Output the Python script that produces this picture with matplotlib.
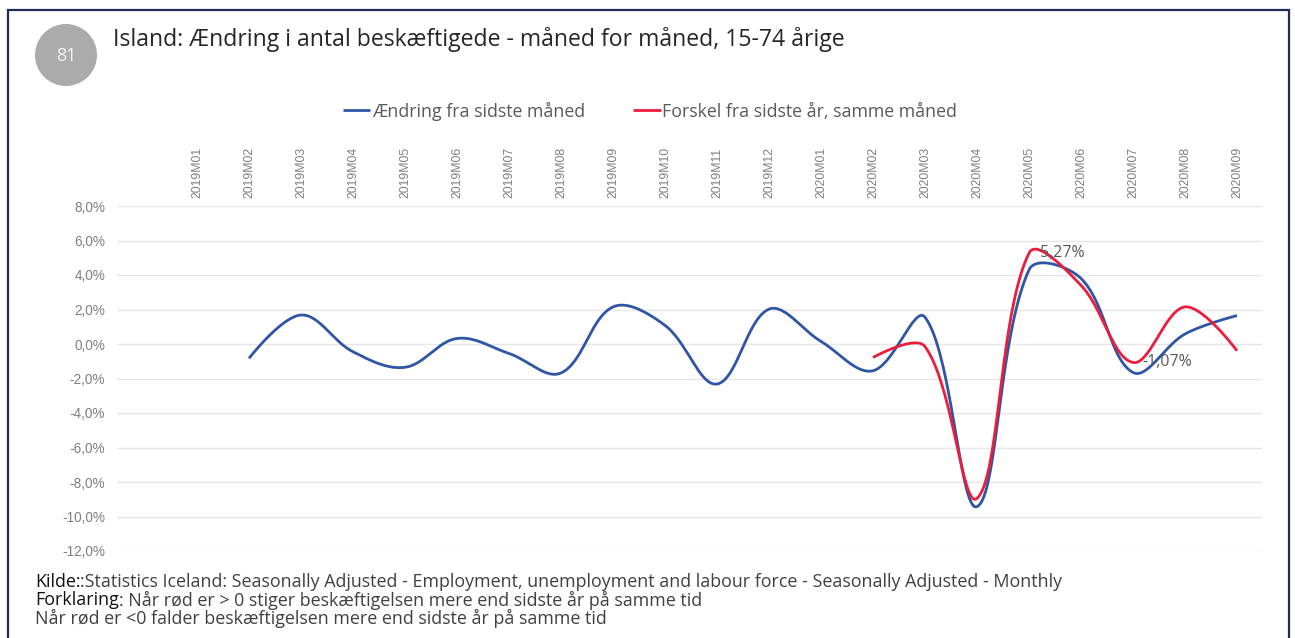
import numpy as np
import matplotlib.pyplot as plt
from matplotlib.patches import Ellipse, Rectangle

months = ['2019M01', '2019M02', '2019M03', '2019M04', '2019M05', '2019M06',
          '2019M07', '2019M08', '2019M09', '2019M10', '2019M11', '2019M12',
          '2020M01', '2020M02', '2020M03', '2020M04', '2020M05', '2020M06',
          '2020M07', '2020M08', '2020M09']
# Ændring fra sidste måned (%)
blue = [np.nan, -0.83, 1.68, -0.45, -1.35, 0.32, -0.55, -1.68, 2.15, 1.08,
        -2.32, 2.02, 0.15, -1.55, 1.55, -9.43, 4.30, 3.80, -1.65, 0.58, 1.65]
# Forskel fra sidste år, samme måned (%)
red = [np.nan] * 13 + [-0.78, -0.15, -8.95, 5.27, 3.40, -1.07, 2.15, -0.39]

yticks = [8, 6, 4, 2, 0, -2, -4, -6, -8, -10, -12]

W, H = 1295, 638
BLUE = '#2f55a4'
RED = '#ec1c3c'
GREY = '#7f7f7f'


def smooth(x, y, sx=52.0, sy=17.25, t=0.36, n=40):
    # Excel-ish smoothed line: bezier control points scaled by segment lengths
    p = np.column_stack([np.asarray(x, float) * sx, np.asarray(y, float) * sy])
    out = [p[0]]
    for i in range(len(p) - 1):
        a, b = p[i], p[i + 1]
        if i == 0:
            c1 = a
        else:
            d0 = np.hypot(*(a - p[i - 1])); d1 = np.hypot(*(b - a))
            c1 = a + t * d1 / (d0 + d1) * (b - p[i - 1])
        if i + 2 >= len(p):
            c2 = b
        else:
            d0 = np.hypot(*(b - a)); d1 = np.hypot(*(p[i + 2] - b))
            c2 = b - t * d0 / (d0 + d1) * (p[i + 2] - a)
        s = np.linspace(0, 1, n)[1:, None]
        seg = (1 - s) ** 3 * a + 3 * (1 - s) ** 2 * s * c1 + 3 * (1 - s) * s ** 2 * c2 + s ** 3 * b
        out.extend(seg)
    out = np.array(out)
    return out[:, 0] / sx, out[:, 1] / sy


plt.rcParams['font.family'] = ['Open Sans', 'DejaVu Sans']
fig = plt.figure(figsize=(W / 100, H / 100), dpi=100)
rend = fig.canvas.get_renderer()

# outer frame
fig.patches.append(Rectangle((8 / W, -0.01), 1281 / W, 1 - 10 / H + 0.01,
                             transform=fig.transFigure, fill=False,
                             edgecolor='#1f2d55', lw=1.6))

# number badge + title
fig.patches.append(Ellipse((66 / W, 1 - 55 / H), 62 / W, 62 / H, transform=fig.transFigure,
                           facecolor='#ababab', edgecolor='none'))
fig.text(66 / W, 1 - 56 / H, '81', fontsize=13, color='#f4f4f4', ha='center', va='center')
fig.text(113 / W, 1 - 39 / H,
         'Island: Ændring i antal beskæftigede - måned for måned, 15-74 årige',
         fontsize=16.6, color='#262626', ha='left', va='center')

ax = fig.add_axes([117 / W, 1 - 551 / H, (1262 - 117) / W, (551 - 206) / H])
x = np.arange(len(months))

for vals, col, lab in [(blue, BLUE, 'Ændring fra sidste måned'),
                       (red, RED, 'Forskel fra sidste år, samme måned')]:
    v = np.array(vals, float)
    ok = ~np.isnan(v)
    sx_, sy_ = smooth(x[ok], v[ok])
    ax.plot(sx_, sy_, color=col, lw=2.0, label=lab, solid_capstyle='butt')

# data labels
ax.annotate('5,27%', (16, red[16]), xytext=(8, 0), textcoords='offset points',
            fontsize=11.5, color='#595959', va='center', ha='left')
ax.annotate('-1,07%', (18, red[18]), xytext=(7, 0), textcoords='offset points',
            fontsize=11.5, color='#595959', va='center', ha='left')

ax.set_xlim((117 - 197) / 52, (1262 - 197) / 52)
ax.set_ylim(-12, 8)
ax.set_yticks(yticks)
ax.set_yticklabels([f'{v:.1f}%'.replace('.', ',') for v in yticks],
                   fontsize=9.8, color=GREY, family='Liberation Sans')
ax.set_xticks(x)
ax.set_xticklabels(months, rotation=90, fontsize=8.8, color=GREY, family='Liberation Sans')
ax.xaxis.tick_top()
ax.tick_params(axis='both', length=0)
ax.tick_params(axis='x', pad=6)
ax.tick_params(axis='y', pad=8.5)
ax.grid(axis='y', color='#e6e6e6', lw=1)
ax.set_axisbelow(True)
for sp in ax.spines.values():
    sp.set_visible(False)

fig.legend(loc='center', bbox_to_anchor=(650 / W, 1 - 111 / H), ncol=2, frameon=False,
           fontsize=12.8, labelcolor='#595959', handlelength=1.55, handletextpad=0.1,
           columnspacing=2.7)


def line(y, parts):
    # footnote line made of (text, colour) pieces placed one after another
    xp = 35
    for txt, col in parts:
        t = fig.text(xp / W, 1 - y / H, txt, fontsize=12.85, color=col, va='center', ha='left')
        xp += t.get_window_extent(rend).width


line(582, [('Kilde:', '#111111'),
           (':Statistics Iceland: Seasonally Adjusted - Employment, unemployment and labour force - Seasonally Adjusted - Monthly', '#404040')])
line(600, [('Forklaring', '#111111'),
           (': Når rød er > 0 stiger beskæftigelsen mere end sidste år på samme tid', '#404040')])
line(618, [('Når rød er <0 falder beskæftigelsen mere end sidste år på samme tid', '#404040')])

fig.savefig('out.png', dpi=100)
